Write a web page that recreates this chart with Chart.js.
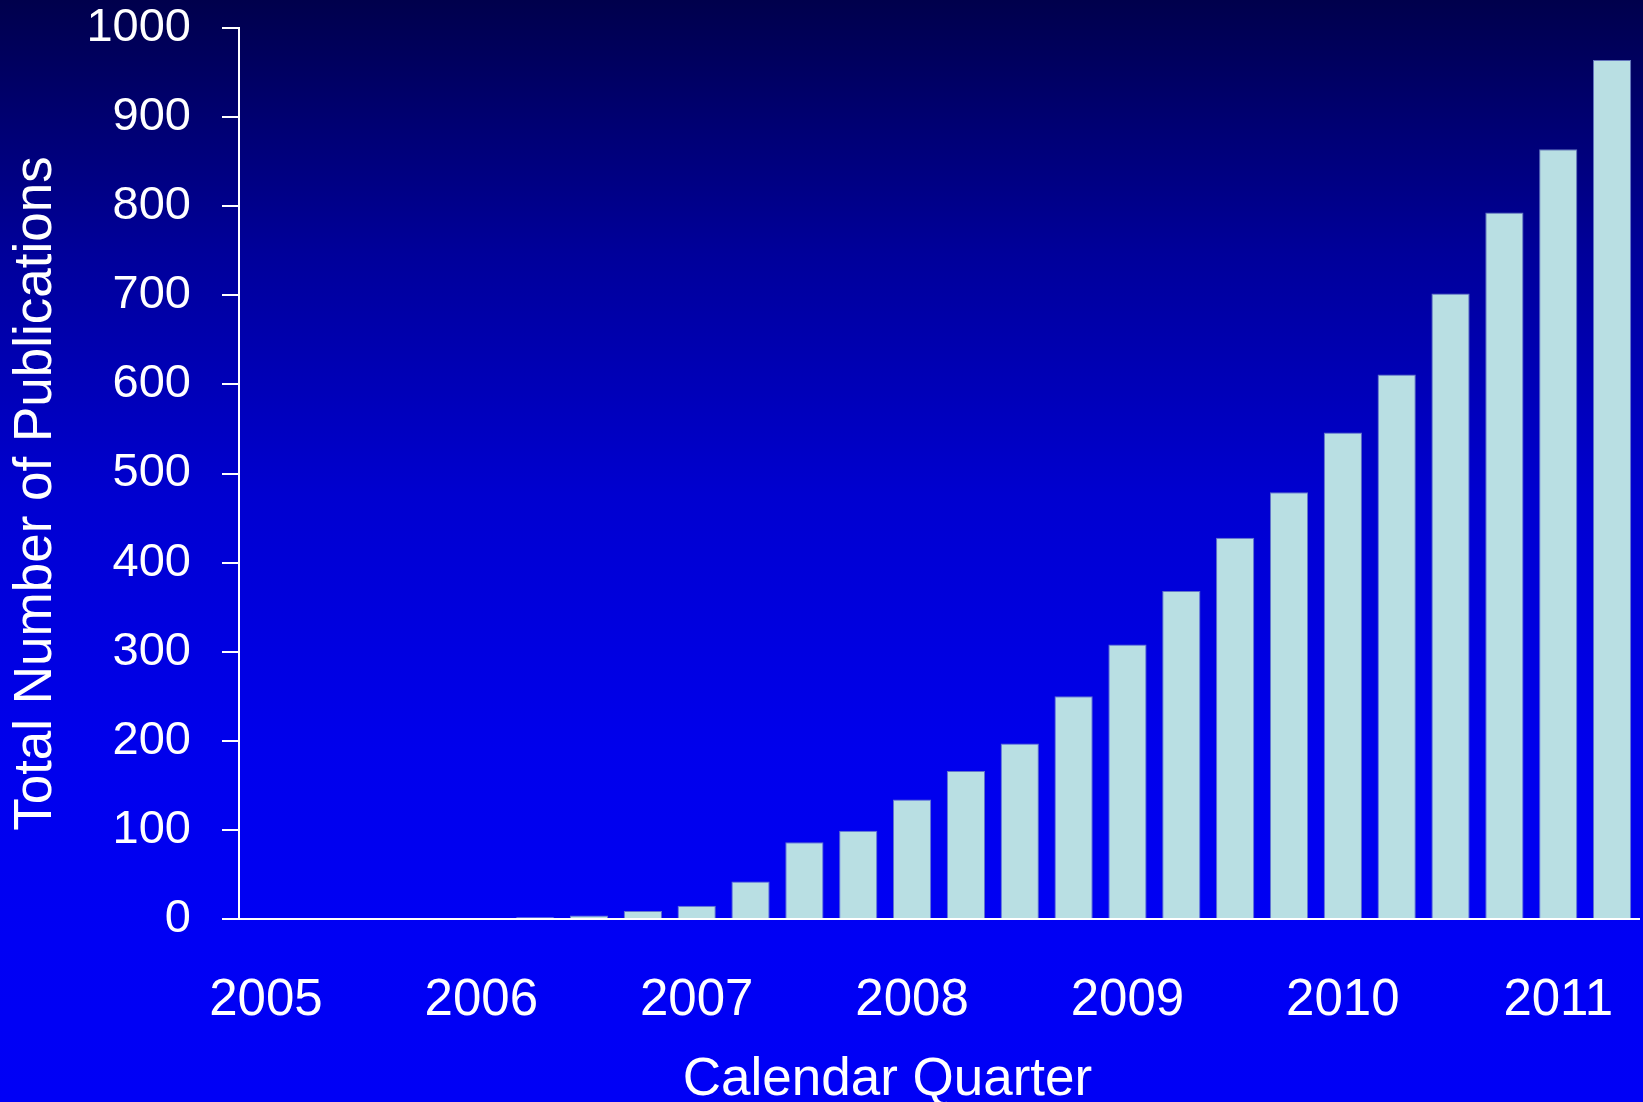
<!DOCTYPE html>
<html>
<head>
<meta charset="utf-8">
<script src="https://cdn.jsdelivr.net/npm/chart.js@4/dist/chart.umd.min.js"></script>
<style>
    html, body { margin: 0; padding: 0; overflow: hidden; }
    #wrap {
        width: 1643px; height: 1102px;
        background: linear-gradient(to bottom, #00004c 0%, #00009a 23%, #0000d0 45%, #0000ec 68%, #0000f4 85%, #0000f6 100%);
    }
</style>
</head>
<body>
<div id="wrap"><canvas id="myChart" width="1643" height="1102"></canvas></div>
<script>
    // Calendar quarters 2005 Q1 .. 2011 Q2, year shown on Q1 only
    const quarterLabels = [
        '2005', '', '', '',
        '2006', '', '', '',
        '2007', '', '', '',
        '2008', '', '', '',
        '2009', '', '', '',
        '2010', '', '', '',
        '2011', ''
    ]
    // Total (cumulative) number of publications per quarter
    const publications = [
        0, 0, 1, 1,
        1, 2, 4, 9,
        15, 42, 86, 99,
        134, 166, 197, 250,
        308, 368, 428, 479,
        546, 611, 702, 793,
        864, 964
    ]
    const yTicks = [0, 100, 200, 300, 400, 500, 600, 700, 800, 900, 1000]

    const sans = "'Liberation Sans', Arial, sans-serif"

    Chart.defaults.color = '#ffffff'

    let ctx = document.getElementById('myChart')
    let myChart = new Chart(ctx, {
        type: 'bar',
        data: {
            labels: quarterLabels,
            datasets: [{
                label: 'Total Number of Publications',
                data: publications,
                backgroundColor: '#b9dfe3',
                borderColor: 'rgba(110, 130, 200, 0.9)',
                borderWidth: 1,
                categoryPercentage: 1.0,
                barPercentage: 0.71
            }]
        },
        options: {
            responsive: false,
            animation: false,
            layout: { padding: { top: 1, right: 4, bottom: 0, left: 0 } },
            plugins: {
                legend: { display: false },
                tooltip: { enabled: false }
            },
            scales: {
                x: {
                    grid: { display: false, drawTicks: false },
                    border: { display: true, color: '#ffffff', width: 2 },
                    ticks: {
                        autoSkip: false,
                        maxRotation: 0,
                        padding: 51,
                        color: '#ffffff',
                        font: { family: sans, size: 51 }
                    },
                    title: {
                        display: true,
                        text: 'Calendar Quarter       ',
                        color: '#ffffff',
                        font: { family: sans, size: 53, lineHeight: 1 },
                        padding: { top: 0, bottom: -5 }
                    },
                    afterFit: (scale) => {
                        scale.height = 183
                        scale.paddingLeft = 0
                        scale.paddingRight = 0
                    }
                },
                y: {
                    min: 0,
                    max: 1000,
                    afterBuildTicks: (scale) => { scale.ticks = yTicks.map(v => ({ value: v })) },
                    grid: {
                        drawOnChartArea: false,
                        drawTicks: true,
                        tickLength: 17,
                        color: '#ffffff',
                        lineWidth: 2
                    },
                    border: { display: true, color: '#ffffff', width: 2 },
                    ticks: {
                        padding: 31,
                        color: '#ffffff',
                        font: { family: sans, size: 47 },
                        callback: (value) => String(value)
                    },
                    title: {
                        display: true,
                        text: 'Total Number of Publications  \u2009',
                        color: '#ffffff',
                        font: { family: sans, size: 53, lineHeight: 1 },
                        padding: { top: 10, bottom: 0 }
                    },
                    afterFit: (scale) => {
                        scale.width = 239
                        scale.paddingTop = 28
                        scale.paddingBottom = 0
                    }
                }
            }
        }
    });
</script>
</body>
</html>
